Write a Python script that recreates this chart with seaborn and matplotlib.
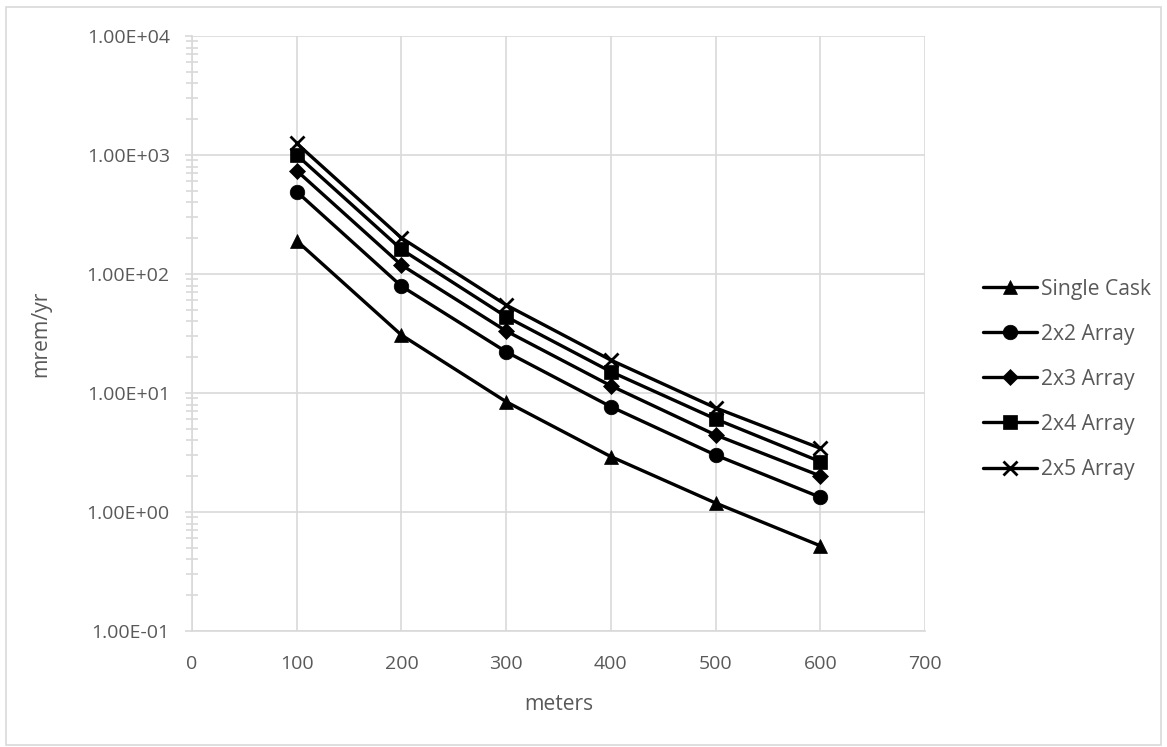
import matplotlib
matplotlib.use("Agg")
import matplotlib.pyplot as plt
import matplotlib.ticker as mticker
from matplotlib.patches import Rectangle
import seaborn as sns
import pandas as pd

# ---- data ----
distances = [100, 200, 300, 400, 500, 600]
single_cask = [190, 30.7, 8.45, 2.92, 1.19, 0.52]
array_2x2 = [492, 79, 22.2, 7.67, 3.01, 1.33]
array_2x3 = [738, 119, 33.2, 11.5, 4.44, 2.01]
array_2x4 = [1000, 161, 43.8, 15.1, 6.05, 2.65]
array_2x5 = [1253, 201, 54.9, 18.9, 7.5, 3.43]
series_names = ["Single Cask", "2x2 Array", "2x3 Array", "2x4 Array", "2x5 Array"]
x_ticks = [0, 100, 200, 300, 400, 500, 600, 700]
y_ticks = [0.1, 1, 10, 100, 1000, 10000]

series_values = [single_cask, array_2x2, array_2x3, array_2x4, array_2x5]
markers = ["^", "o", "D", "s", "x"]
msizes = [10.5, 10.5, 8, 10.5, 10.5]

sns.set_theme(style="white")
plt.rcParams["font.family"] = ["Open Sans", "DejaVu Sans"]
TXT = "#595959"
GRID = "#d9d9d9"
TICK_FS = 14
LAB_FS = 15.2

fig = plt.figure(figsize=(11.67, 7.47), dpi=100)
ax = fig.add_axes([192 / 1167, 1 - 631 / 747, 733 / 1167, 595 / 747])

for name, vals, mk, ms in zip(series_names, series_values, markers, msizes):
    df = pd.DataFrame({"meters": distances, "mrem/yr": vals})
    sns.lineplot(data=df, x="meters", y="mrem/yr", ax=ax, color="black",
                 linewidth=2.4, marker=mk, markersize=ms, markeredgecolor="black",
                 markeredgewidth=2 if mk == "x" else 0.5, label=name, zorder=3)

ax.set_yscale("log")
ax.set_ylim(0.1, 10000)
ax.set_xlim(0, 700)
ax.set_xticks(x_ticks)
ax.set_yticks(y_ticks)
ax.yaxis.set_major_formatter(mticker.FuncFormatter(lambda v, p: f"{v:.2E}"))
ax.yaxis.set_minor_locator(mticker.LogLocator(base=10, subs=range(2, 10), numticks=20))
ax.yaxis.set_minor_formatter(mticker.NullFormatter())

ax.grid(True, which="major", color=GRID, linewidth=1.2, zorder=0)
ax.set_axisbelow(True)
for s in ["top", "right"]:
    ax.spines[s].set_visible(False)
for s in ["left", "bottom"]:
    ax.spines[s].set_color(GRID)
    ax.spines[s].set_linewidth(1.2)

ax.tick_params(axis="y", which="major", direction="out", length=5, width=1.2,
               color=GRID, left=True, pad=11, labelsize=TICK_FS, labelcolor=TXT)
ax.tick_params(axis="y", which="minor", direction="inout", length=9, width=1.2,
               color=GRID, left=True)
ax.tick_params(axis="x", which="both", length=0, pad=17, labelsize=TICK_FS, labelcolor=TXT)

ax.set_xlabel("meters", fontsize=LAB_FS, color=TXT)
ax.set_ylabel("mrem/yr", fontsize=LAB_FS, color=TXT)
ax.xaxis.label.set_va("center")
ax.yaxis.label.set_va("center")
ax.xaxis.set_label_coords(0.5, -0.124)
ax.yaxis.set_label_coords(-0.207, 0.5)

leg = ax.legend(loc="center left", bbox_to_anchor=(1.079, 0.423), frameon=False,
                fontsize=LAB_FS, handlelength=2.55, handletextpad=0.22,
                labelspacing=1.14, borderpad=0, borderaxespad=0)
for t in leg.get_texts():
    t.set_color(TXT)

fig.patches.append(Rectangle((6 / 1167, 2 / 747), 1155 / 1167, 738 / 747,
                             transform=fig.transFigure, fill=False,
                             edgecolor=GRID, linewidth=1.2))

fig.savefig("out.png", dpi=100)
